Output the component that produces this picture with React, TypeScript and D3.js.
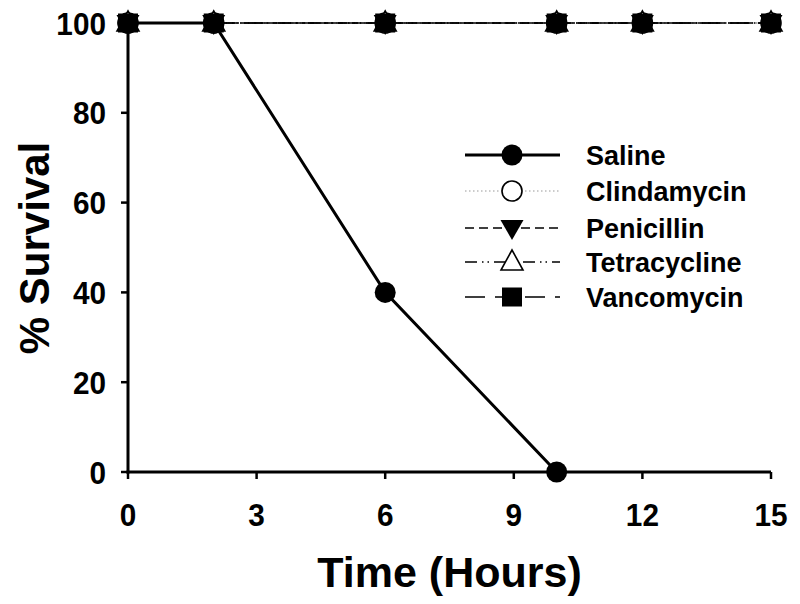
import React from "react";
import * as d3 from "d3";

const hours = [0, 2, 6, 10, 12, 15];
const salineHours = [0, 2, 6, 10];
const salineValues = [100, 100, 40, 0];
const clindamycinValues = [100, 100, 100, 100, 100, 100];
const penicillinValues = [100, 100, 100, 100, 100, 100];
const tetracyclineValues = [100, 100, 100, 100, 100, 100];
const vancomycinValues = [100, 100, 100, 100, 100, 100];
const xTicks = [0, 3, 6, 9, 12, 15];
const yTicks = [0, 20, 40, 60, 80, 100];
const seriesNames = ["Saline", "Clindamycin", "Penicillin", "Tetracycline", "Vancomycin"];

const W = 800, H = 604;
const left = 128, right = 771, top = 23, bottom = 472;
const FONT = "'Liberation Sans', Arial, sans-serif";

type Style = { dash: string; width: number; color: string; marker: string };
const styles: Style[] = [
  { dash: "", width: 3, color: "#000", marker: "circleFilled" },
  { dash: "1.5,2.5", width: 1.2, color: "#999", marker: "circleOpen" },
  { dash: "9,5", width: 1.5, color: "#000", marker: "triDown" },
  { dash: "12,5,1.5,4,1.5,5", width: 1.5, color: "#000", marker: "triUp" },
  { dash: "20,10", width: 1.5, color: "#000", marker: "square" },
];

function Marker({ kind, x, y }: { kind: string; x: number; y: number }) {
  if (kind === "circleFilled") return <circle cx={x} cy={y} r={10.5} fill="#000" />;
  if (kind === "circleOpen") return <circle cx={x} cy={y} r={10} fill="#fff" stroke="#000" strokeWidth={1.6} />;
  if (kind === "triDown") {
    return <path d={`M${x - 11.5},${y - 8} L${x + 11.5},${y - 8} L${x},${y + 12} Z`} fill="#000" />;
  }
  if (kind === "triUp") {
    return <path d={`M${x - 11},${y + 8} L${x + 11},${y + 8} L${x},${y - 12} Z`} fill="#fff" stroke="#000" strokeWidth={1.6} />;
  }
  return <rect x={x - 10} y={y - 9.5} width={20} height={19} fill="#000" />;
}

export default function App() {
  const x = d3.scaleLinear().domain([0, 15]).range([left, right]);
  const y = d3.scaleLinear().domain([0, 100]).range([bottom, top]);
  const line = d3.line<[number, number]>().x((d) => x(d[0])).y((d) => y(d[1]));

  const others = [clindamycinValues, penicillinValues, tetracyclineValues, vancomycinValues];
  const markerOrder = [0, 2, 1, 3];
  const salinePts: [number, number][] = salineHours.map((h, i) => [h, salineValues[i]]);

  const legendX0 = 465, legendX1 = 560, legendMX = 512, legendTX = 586;
  const legendY = [155, 191, 228, 262, 297];

  return (
    <svg width={W} height={H} style={{ position: "absolute", left: 0, top: 0, background: "#fff" }} fontFamily={FONT}>
      <rect width={W} height={H} fill="#fff" />
      {others.map((vals, si) => {
        const st = styles[si + 1];
        const pts: [number, number][] = hours.map((h, i) => [h, vals[i]]);
        return (
          <path key={si} d={line(pts) || ""} fill="none" stroke={si === 0 ? "#555" : "#000"} strokeWidth={st.width} strokeDasharray={st.dash} />
        );
      })}
      <path d={line(salinePts) || ""} fill="none" stroke="#000" strokeWidth={3} />
      {salinePts.map((p, i) => (
        <Marker key={"s" + i} kind="circleFilled" x={x(p[0])} y={y(p[1])} />
      ))}
      {markerOrder.map((si) => (
        <g key={"m" + si}>
          {hours.map((h, i) => (
            <Marker key={i} kind={styles[si + 1].marker} x={x(h)} y={y(others[si][i])} />
          ))}
        </g>
      ))}
      {/* axes */}
      <line x1={left} x2={left} y1={top} y2={bottom + 1.5} stroke="#000" strokeWidth={3} />
      <line x1={left - 1.5} x2={right} y1={bottom} y2={bottom} stroke="#000" strokeWidth={3} />
      {yTicks.map((t) => (
        <g key={"y" + t}>
          <line x1={left - 7} x2={left} y1={y(t)} y2={y(t)} stroke="#000" strokeWidth={2.5} />
          <g transform={`translate(106,${y(t)}) scale(0.93,1)`}>
            <text x={0} y={0} dy="0.36em" textAnchor="end" fontSize={32} fontWeight="bold">{t}</text>
          </g>
        </g>
      ))}
      {xTicks.map((t) => (
        <g key={"x" + t}>
          <line x1={x(t)} x2={x(t)} y1={bottom} y2={bottom + 7} stroke="#000" strokeWidth={2.5} />
          <g transform={`translate(${x(t)},526) scale(0.93,1)`}>
            <text x={0} y={0} textAnchor="middle" fontSize={32} fontWeight="bold">{t}</text>
          </g>
        </g>
      ))}
      <text x={(left + right) / 2} y={587} textAnchor="middle" fontSize={43} fontWeight="bold">Time (Hours)</text>
      <text transform={`translate(49,248) rotate(-90)`} textAnchor="middle" fontSize={42} fontWeight="bold">% Survival</text>
      {/* legend */}
      {seriesNames.map((name, i) => {
        const st = styles[i];
        const ly = legendY[i];
        return (
          <g key={"l" + name}>
            <line x1={legendX0} x2={legendX1} y1={ly} y2={ly} stroke={st.color} strokeWidth={st.width} strokeDasharray={st.dash} />
            <Marker kind={st.marker} x={legendMX} y={ly} />
            <text x={legendTX} y={ly} dy="0.36em" fontSize={27} fontWeight="bold">{name}</text>
          </g>
        );
      })}
    </svg>
  );
}
